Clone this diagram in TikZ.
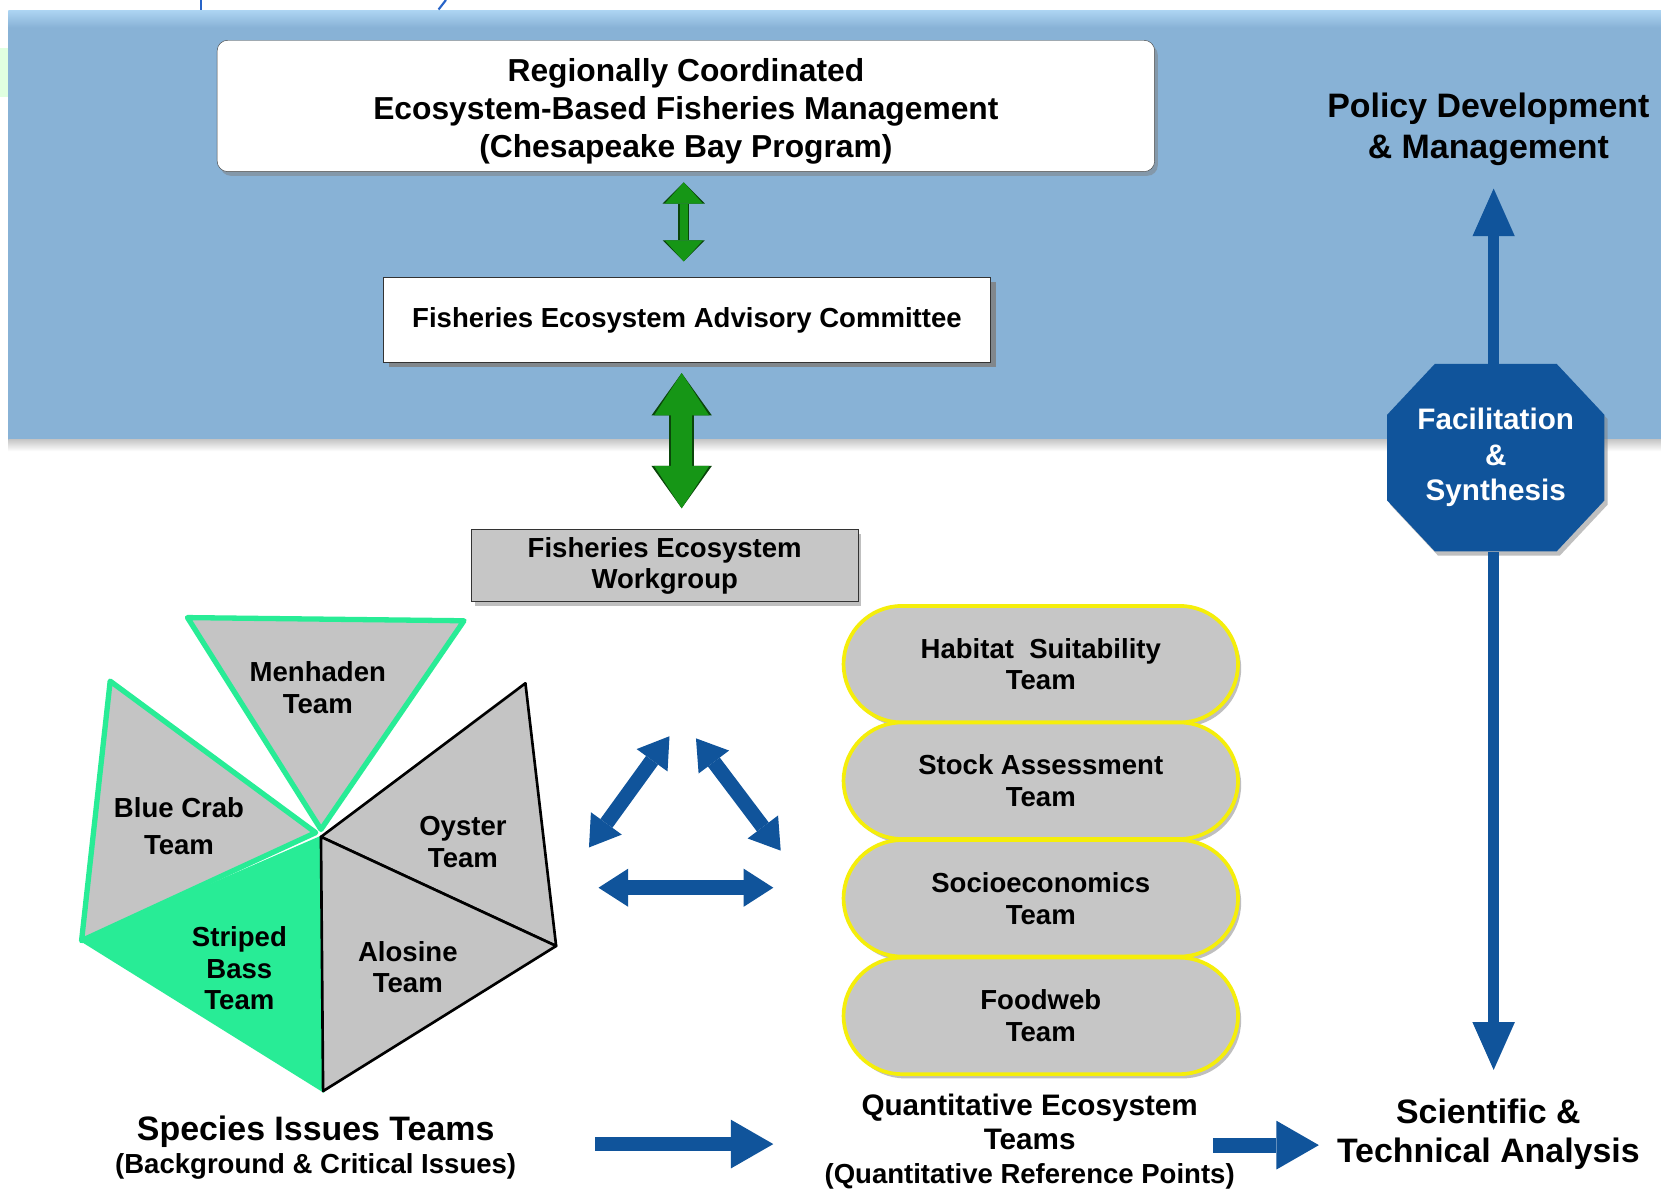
\documentclass[tikz,border=0pt]{standalone}
\usepackage{fontspec}
\setmainfont{Liberation Sans}
\usetikzlibrary{arrows.meta,shadows,shapes.misc}
\definecolor{bandblue}{RGB}{136,178,214}
\definecolor{bandtop}{RGB}{172,212,242}
\definecolor{navy}{RGB}{16,84,155}
\definecolor{arrowgreen}{RGB}{22,150,22}
\definecolor{darkgreen}{RGB}{10,70,10}
\definecolor{mint}{RGB}{40,236,150}
\definecolor{pillyellow}{RGB}{245,238,10}
\definecolor{boxgray}{RGB}{198,198,198}
\definecolor{piegray}{RGB}{196,196,196}
\definecolor{inkblue}{RGB}{40,100,200}
\begin{document}
\begin{tikzpicture}[x=1pt,y=-1pt,
  every node/.style={align=center,font=\fontsize{26}{30}\selectfont\bfseries},
  big/.style={font=\fontsize{32}{38}\selectfont\bfseries},
  softshadow/.style={drop shadow={shadow xshift=3pt,shadow yshift=-4pt,opacity=.5}},
  topbox/.style={draw=black!75,fill=white,rounded corners=10pt,minimum width=885pt,minimum height=124pt,
    font=\fontsize{30}{35.5}\selectfont\bfseries,softshadow},
  feacbox/.style={draw=black!80,fill=white,minimum width=573pt,minimum height=80pt,
    drop shadow={shadow xshift=5pt,shadow yshift=-4pt,opacity=.85}},
  fewbox/.style={draw=black!80,fill=boxgray,minimum width=365pt,minimum height=68pt,
    font=\fontsize{26}{29}\selectfont\bfseries,softshadow},
  pill/.style={rounded rectangle,draw=pillyellow,line width=3.5pt,fill=boxgray,
    minimum width=379pt,minimum height=110pt,softshadow},
  octa/.style={text=white,minimum width=205pt,minimum height=177pt,font=\fontsize{28}{33.5}\selectfont\bfseries},
  garrow/.style={draw=arrowgreen,line width=8pt,
    arrows={Triangle[width=36pt,length=20pt,line width=0pt]-Triangle[width=36pt,length=20pt,line width=0pt]},
    preaction={draw=darkgreen,line width=10.5pt,
      arrows={Triangle[width=40pt,length=20pt,line width=0pt]-Triangle[width=40pt,length=20pt,line width=0pt]}}},
  garrowbig/.style={draw=arrowgreen,line width=20pt,
    arrows={Triangle[width=52pt,length=40pt,line width=0pt]-Triangle[width=52pt,length=40pt,line width=0pt]},
    preaction={draw=darkgreen,line width=23pt,
      arrows={Triangle[width=57pt,length=40pt,line width=0pt]-Triangle[width=57pt,length=40pt,line width=0pt]}}},
  barrow/.style={draw=navy,line width=14pt,
    arrows={Triangle[width=36pt,length=28pt,line width=0pt]-Triangle[width=36pt,length=28pt,line width=0pt]}},
  harrow/.style={draw=navy,line width=14pt,arrows={-Triangle[width=46pt,length=40pt,line width=0pt]}},
  varrow/.style={draw=navy,line width=11pt,arrows={-Triangle[width=40pt,length=45pt,line width=0pt]}},
  tri/.style={fill=piegray,draw=black,line width=2.5pt,line join=round},
  gtri/.style={fill=piegray,draw=mint,line width=5pt,line join=round}]
\useasboundingbox (0,0) rectangle (1568,1124);
\fill[white] (0,0) rectangle (1568,1124);
% blue band
\fill[bandblue] (8,10) rectangle (1568,415);
\shade[top color=bandtop,bottom color=bandblue] (8,10) rectangle (1568,26);
\shade[top color=black!22,bottom color=white] (8,415) rectangle (1568,426);
\fill[green!12!white] (0,45) rectangle (8,92);
\draw[inkblue,line width=2pt] (190,0)--(190,9);
\draw[inkblue,line width=2pt] (421,0)--(414,9);

% boxes
\node[topbox] (rcm) at (647.5,100) {\rule{0pt}{32pt}Regionally Coordinated\\Ecosystem-Based Fisheries Management\\(Chesapeake Bay Program)};
\node[feacbox] (feac) at (648.5,302) {Fisheries Ecosystem Advisory Committee};
\node[fewbox] (few) at (627.5,534) {Fisheries Ecosystem\\Workgroup};
\draw[garrow,shorten <=10pt,shorten >=15pt] ([xshift=-2pt]rcm.south) -- ([xshift=-2pt]rcm.south |- feac.north);
\draw[garrowbig,shorten <=10pt,shorten >=20pt] ([xshift=-5pt]feac.south) -- ([xshift=-5pt]feac.south |- few.north);

% species pie
\coordinate (c) at (303,790);
\filldraw[fill=mint,draw=mint,line width=2pt] (c) -- (305,1030) -- (77,888) -- cycle;
\filldraw[tri] (c) -- (496,645) -- (525,893) -- cycle;
\filldraw[tri] (c) -- (525,893) -- (305,1030) -- cycle;
\filldraw[gtri] (298,786) -- (104,643) -- (77,888) -- cycle;
\filldraw[gtri] (303,783) -- (177,583) -- (438,586) -- cycle;
\node (menh) at (300,649) {Menhaden\\Team};
\node[font=\fontsize{26}{35}\selectfont\bfseries] (crab) at (169,780) {Blue Crab\\Team};
\node (oys) at (437,795) {Oyster\\Team};
\node (sbass) at (226,914) {Striped\\Bass\\Team};
\node (alo) at (385,913) {Alosine\\Team};
\node[font=\fontsize{32}{31}\selectfont\bfseries] (sit) at (298,1083) {Species Issues Teams\\\fontsize{26}{31}\selectfont (Background \& Critical Issues)};

% quantitative teams
\node[pill] (hab) at (982.5,627) {Habitat\ \ Suitability\\Team};
\node[pill] (stock) at (982.5,737) {Stock Assessment\\Team};
\node[pill] (socio) at (982.5,848) {Socioeconomics\\Team};
\node[pill] (food) at (982.5,959) {Foodweb\\Team};
\node[font=\fontsize{28}{32}\selectfont\bfseries] (qet) at (972,1078) {Quantitative Ecosystem\\Teams\\\fontsize{26}{31}\selectfont (Quantitative Reference Points)};

% exchange arrows
\coordinate (l1) at (632,695); \coordinate (l2) at (556,800);
\coordinate (r1) at (657,697); \coordinate (r2) at (737,803);
\coordinate (h1) at (565,838); \coordinate (h2) at (730,838);
\draw[barrow] (l1) -- (l2);
\draw[barrow] (r1) -- (r2);
\draw[barrow] (h1) -- (h2);
\coordinate (s1) at (562,1080); \coordinate (s2) at (730,1080);
\coordinate (q1) at (1145,1081); \coordinate (q2) at (1245,1081);
\draw[harrow] (s1) -- (s2);
\draw[harrow] (q1) -- (q2);

% right column
\node[big] (pol) at (1405,122) {Policy Development\\\& Management};
\node[font=\fontsize{32}{37}\selectfont\bfseries] (sci) at (1405,1071) {Scientific \&\\Technical Analysis};
\coordinate (poltip) at (1410,178);
\coordinate (scitip) at (1410,1010);
\coordinate (fc) at (1412,432);
\fill[navy,softshadow] ([shift={(-57.5,-88.5)}]fc) -- ([shift={(57.5,-88.5)}]fc) -- ([shift={(102.5,-40.5)}]fc)
  -- ([shift={(102.5,40.5)}]fc) -- ([shift={(57.5,88.5)}]fc) -- ([shift={(-57.5,88.5)}]fc)
  -- ([shift={(-102.5,40.5)}]fc) -- ([shift={(-102.5,-40.5)}]fc) -- cycle;
\node[octa] (fac) at (fc) {Facilitation\\\&\\Synthesis};
\draw[varrow] (fac.north -| poltip) -- (poltip);
\draw[varrow] (fac.south -| scitip) -- (scitip);
\end{tikzpicture}
\end{document}
